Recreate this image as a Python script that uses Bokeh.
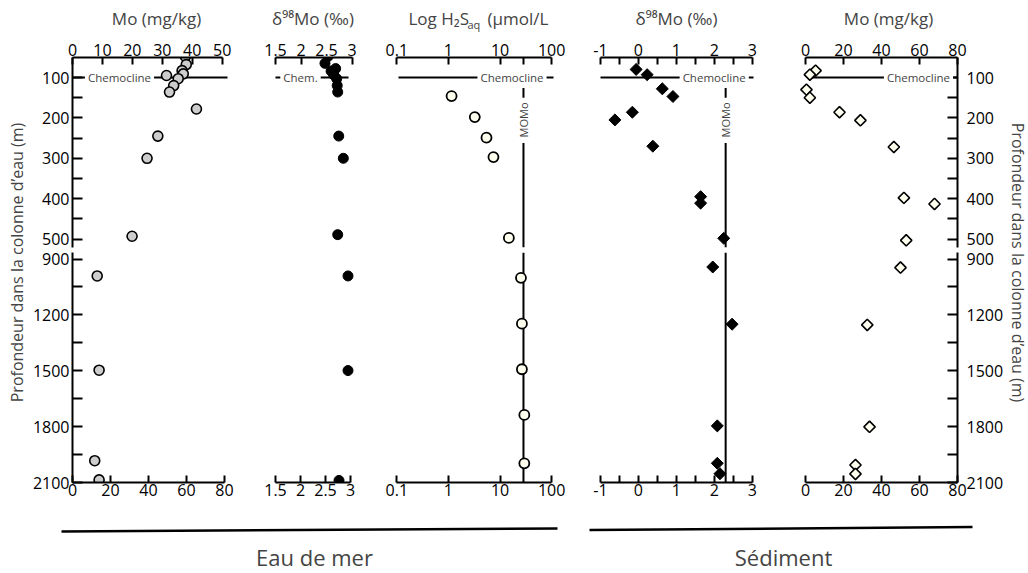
import numpy as np
from bokeh.plotting import figure
from bokeh.models import Range1d, FixedTicker, Label, LinearAxis, LogScale
from bokeh.layouts import row, column
from bokeh.embed import file_html
from bokeh.resources import INLINE

FONT = "Open Sans"

# ---------------- data ----------------
# Eau de mer - Mo (mg/kg)
sw_mo_depth_up = [48, 68, 83, 91, 95, 103, 120, 136, 178, 245, 300, 493]
sw_mo_up = [37.7, 38.0, 36.6, 37.0, 31.4, 35.3, 33.8, 32.4, 41.4, 28.5, 24.9, 19.9]
sw_mo_depth_lo = [991, 1497, 1983, 2086]
sw_mo_lo = [13.0, 14.0, 11.7, 14.0]

# Eau de mer - delta98Mo (permil)
sw_d98_depth_up = [48, 65, 78, 84, 93, 103, 120, 136, 245, 300, 489]
sw_d98_up = [2.53, 2.47, 2.68, 2.59, 2.64, 2.70, 2.71, 2.72, 2.74, 2.83, 2.72]
sw_d98_depth_lo = [991, 1499, 2089]
sw_d98_lo = [2.95, 2.95, 2.77]

# Eau de mer - H2S aq (umol/L)
h2s_depth_up = [146, 198, 249, 297, 497]
h2s_up = [1.15, 3.24, 5.46, 7.45, 14.8]
h2s_depth_lo = [1001, 1247, 1492, 1737, 1997]
h2s_lo = [25.4, 26.5, 26.5, 29.5, 29.5]

# Sediment - delta98Mo (permil)
sed_d98_depth_up = [80, 93, 128, 147, 186, 205, 270, 395, 411, 498]
sed_d98_up = [-0.06, 0.23, 0.63, 0.91, -0.16, -0.62, 0.38, 1.64, 1.64, 2.25]
sed_d98_depth_lo = [943, 1250, 1796, 1997, 2053]
sed_d98_lo = [1.96, 2.47, 2.08, 2.08, 2.15]

# Sediment - Mo (mg/kg)
sed_mo_depth_up = [83, 93, 130, 150, 186, 206, 272, 398, 413, 503]
sed_mo_up = [5.3, 2.3, 0.5, 2.3, 17.9, 28.9, 46.5, 51.8, 67.9, 53.0]
sed_mo_depth_lo = [946, 1254, 1801, 2006, 2054]
sed_mo_lo = [50.0, 32.5, 33.7, 26.3, 26.3]

CHEMOCLINE = 100
MOMO_H2S = 28.4
MOMO_D98 = 2.30

depth_ticks_up = [100, 200, 300, 400, 500]
depth_minor_up = [150, 250, 350, 450]
depth_ticks_lo = [900, 1200, 1500, 1800, 2100]
depth_minor_lo = [1050, 1350, 1650, 1950]

mo_ticks_up = [0, 10, 20, 30, 40, 50]
mo_ticks_lo = [0, 20, 40, 60, 80]
sed_mo_ticks = [0, 20, 40, 60, 80]
sw_d98_ticks = [1.5, 2, 2.5, 3]
h2s_ticks = [0.1, 1, 10, 100]
sed_d98_ticks = [-1, 0, 1, 2, 3]
sed_d98_minor = [-0.5, 0.5, 1.5, 2.5]

# ---------------- page geometry (pixels) ----------------
HEAD_H = 32
UP_Y = (57, 247)
UP_FIG_BOTTOM = 249
LO_Y = (252, 482)
LO_FIG_BOTTOM = 508
PAGE_W, PAGE_H = 1028, 573
UP_CAL = (100, 77.0, 500, 238.6)
LO_CAL = (900, 258.5, 2100, 482.0)


def px2x(cal, px, log=False):
    v0, p0, v1, p1 = cal
    if log:
        v0, v1 = np.log10(v0), np.log10(v1)
    v = v0 + (px - p0) * (v1 - v0) / (p1 - p0)
    return float(10 ** v) if log else float(v)


def py2d(cal, py):
    d0, p0, d1, p1 = cal
    return float(d0 + (py - p0) * (d1 - d0) / (p1 - p0))


def base_fig(xcal, xframe, span, ycal, yframe, mbt, mbb, log=False):
    p = figure(
        x_range=Range1d(px2x(xcal, xframe[0], log), px2x(xcal, xframe[1], log)),
        y_range=Range1d(py2d(ycal, yframe[1]), py2d(ycal, yframe[0])),
        frame_width=xframe[1] - xframe[0], frame_height=yframe[1] - yframe[0],
        min_border_left=xframe[0] - span[0], min_border_right=span[1] - xframe[1],
        min_border_top=mbt, min_border_bottom=mbb,
        x_axis_type=None, y_axis_type=None, toolbar_location=None,
        output_backend="svg", outline_line_color=None,
        background_fill_color="white", border_fill_color="white")
    if log:
        p.x_scale = LogScale()
    return p


def style_axis(ax, tick_len, standoff):
    ax.axis_line_width = 2
    ax.axis_line_color = "black"
    ax.major_tick_line_width = 2
    ax.major_tick_line_color = "black"
    ax.major_tick_in = tick_len
    ax.major_tick_out = 0
    ax.minor_tick_line_width = 2
    ax.minor_tick_line_color = "black"
    ax.minor_tick_in = tick_len
    ax.minor_tick_out = 0
    ax.major_label_text_font = FONT
    ax.major_label_text_font_size = "16px"
    ax.major_label_text_color = "black"
    ax.major_label_standoff = standoff


def x_axis(p, side, ticks, labels, minor, bounds):
    ax = LinearAxis(ticker=FixedTicker(ticks=ticks, minor_ticks=minor),
                    major_label_overrides={t: l for t, l in zip(ticks, labels)})
    style_axis(ax, 7, 2 if side == "above" else 1)
    ax.bounds = bounds
    p.add_layout(ax, side)


def y_axis(p, side, ticks, minor):
    ax = LinearAxis(ticker=FixedTicker(ticks=ticks, minor_ticks=minor),
                    major_label_overrides={t: str(t) for t in ticks})
    style_axis(ax, 10, 3 if side == "left" else 9)
    p.add_layout(ax, side)


def fmt(v):
    return "%g" % v


ST_SW_MO = dict(marker="circle", size=10, fill_color="#cdcdcd", line_color="black", line_width=1.6)
ST_SW_D98 = dict(marker="circle", size=10, fill_color="black", line_color="black", line_width=1)
ST_H2S = dict(marker="circle", size=10, fill_color="#fffff0", line_color="black", line_width=1.8)
ST_SED_D98 = dict(marker="square", angle=np.pi / 4, size=8.5, fill_color="black", line_color="black", line_width=1)
ST_SED_MO = dict(marker="square", angle=np.pi / 4, size=8, fill_color="#fffff0", line_color="black", line_width=1.6)


def chemocline(p, cal, log, px_from, px_to, text, px_text):
    p.segment(x0=[px2x(cal, px_from, log)], y0=[CHEMOCLINE], x1=[px2x(cal, px_to, log)], y1=[CHEMOCLINE],
              line_color="black", line_width=2)
    p.add_layout(Label(x=px2x(cal, px_text, log), y=CHEMOCLINE, text=text, text_font=FONT,
                       text_font_size="11.5px", text_align="center", text_baseline="middle",
                       background_fill_color="white", padding=3))


def momo(p_up, p_lo, xval):
    up_bottom = py2d(UP_CAL, UP_Y[1])
    lo_top = py2d(LO_CAL, LO_Y[0])
    p_up.segment(x0=[xval, xval], y0=[110, 262], x1=[xval, xval], y1=[150, up_bottom],
                 line_color="black", line_width=2)
    p_up.add_layout(Label(x=xval, y=205, text="MOMo", angle=np.pi / 2, text_font=FONT,
                          text_font_size="11px", text_align="center", text_baseline="middle"))
    p_lo.segment(x0=[xval], y0=[lo_top], x1=[xval], y1=[2100], line_color="black", line_width=2)


MBT_UP, MBB_UP = UP_Y[0] - HEAD_H, UP_FIG_BOTTOM - UP_Y[1]
MBT_LO, MBB_LO = LO_Y[0] - UP_FIG_BOTTOM, LO_FIG_BOTTOM - LO_Y[1]

# ---------- Panel 1 : seawater Mo ----------
c1u, c1l, f1, s1 = (0, 72, 50, 221.7), (0, 72, 80, 224), (72, 232), (28, 242)
p1u = base_fig(c1u, f1, s1, UP_CAL, UP_Y, MBT_UP, MBB_UP)
p1l = base_fig(c1l, f1, s1, LO_CAL, LO_Y, MBT_LO, MBB_LO)
x_axis(p1u, "above", mo_ticks_up, [fmt(t) for t in mo_ticks_up], [], (0, 50))
x_axis(p1l, "below", mo_ticks_lo, [fmt(t) for t in mo_ticks_lo], [], (0, 80))
y_axis(p1u, "left", depth_ticks_up, depth_minor_up)
y_axis(p1l, "left", depth_ticks_lo, depth_minor_lo)
chemocline(p1u, c1u, False, 72, 227, "Chemocline", 119)
p1u.scatter(x=sw_mo_up, y=sw_mo_depth_up, **ST_SW_MO)
p1l.scatter(x=sw_mo_lo, y=sw_mo_depth_lo, **ST_SW_MO)

# ---------- Panel 2 : seawater d98Mo ----------
c2u, c2l, f2, s2 = (1.5, 275, 3, 351.5), (1.5, 275, 3, 350), (262, 362), (242, 372)
p2u = base_fig(c2u, f2, s2, UP_CAL, UP_Y, MBT_UP, MBB_UP)
p2l = base_fig(c2l, f2, s2, LO_CAL, LO_Y, MBT_LO, MBB_LO)
x_axis(p2u, "above", sw_d98_ticks, [fmt(t) for t in sw_d98_ticks], [], (1.5, 3))
x_axis(p2l, "below", sw_d98_ticks, [fmt(t) for t in sw_d98_ticks], [], (1.5, 3))
chemocline(p2u, c2u, False, 275, 348, "Chem.", 300)
p2u.scatter(x=sw_d98_up, y=sw_d98_depth_up, **ST_SW_D98)
p2l.scatter(x=sw_d98_lo, y=sw_d98_depth_lo, **ST_SW_D98)

# ---------- Panel 3 : H2S ----------
c3, f3, s3 = (0.1, 396.3, 100, 551.2), (385, 565), (372, 575)
p3u = base_fig(c3, f3, s3, UP_CAL, UP_Y, MBT_UP, MBB_UP, log=True)
p3l = base_fig(c3, f3, s3, LO_CAL, LO_Y, MBT_LO, MBB_LO, log=True)
x_axis(p3u, "above", h2s_ticks + [MOMO_H2S], [fmt(t) for t in h2s_ticks] + [""], [], (0.1, 100))
x_axis(p3l, "below", h2s_ticks, [fmt(t) for t in h2s_ticks], [], (0.1, 100))
chemocline(p3u, c3, True, 398, 553, "Chemocline", 511.5)
momo(p3u, p3l, MOMO_H2S)
p3u.scatter(x=h2s_up, y=h2s_depth_up, **ST_H2S)
p3l.scatter(x=h2s_lo, y=h2s_depth_lo, **ST_H2S)

# ---------- Panel 4 : sediment d98Mo ----------
c4, f4, s4 = (-1, 600, 3, 751.7), (588, 765), (575, 775)
p4u = base_fig(c4, f4, s4, UP_CAL, UP_Y, MBT_UP, MBB_UP)
p4l = base_fig(c4, f4, s4, LO_CAL, LO_Y, MBT_LO, MBB_LO)
x_axis(p4u, "above", sed_d98_ticks, [fmt(t) for t in sed_d98_ticks], sed_d98_minor, (-1, 3))
x_axis(p4l, "below", sed_d98_ticks, [fmt(t) for t in sed_d98_ticks], sed_d98_minor, (-1, 3))
chemocline(p4u, c4, False, 600, 753, "Chemocline", 713.7)
momo(p4u, p4l, MOMO_D98)
p4u.scatter(x=sed_d98_up, y=sed_d98_depth_up, **ST_SED_D98)
p4l.scatter(x=sed_d98_lo, y=sed_d98_depth_lo, **ST_SED_D98)

# ---------- Panel 5 : sediment Mo ----------
c5, f5, s5 = (0, 805, 80, 957), (795, 957), (775, 1005)
p5u = base_fig(c5, f5, s5, UP_CAL, UP_Y, MBT_UP, MBB_UP)
p5l = base_fig(c5, f5, s5, LO_CAL, LO_Y, MBT_LO, MBB_LO)
x_axis(p5u, "above", sed_mo_ticks, [fmt(t) for t in sed_mo_ticks], [], (0, 80))
x_axis(p5l, "below", sed_mo_ticks, [fmt(t) for t in sed_mo_ticks], [], (0, 80))
y_axis(p5u, "right", depth_ticks_up, depth_minor_up)
y_axis(p5l, "right", depth_ticks_lo, depth_minor_lo)
chemocline(p5u, c5, False, 809, 957, "Chemocline", 918)
p5u.scatter(x=sed_mo_up, y=sed_mo_depth_up, **ST_SED_MO)
p5l.scatter(x=sed_mo_lo, y=sed_mo_depth_lo, **ST_SED_MO)


# ---------- page-coordinate figures: header, side labels, footer ----------
def page_fig(x0, x1, y0, y1):
    return figure(x_range=Range1d(x0, x1), y_range=Range1d(y1, y0),
                  frame_width=x1 - x0, frame_height=y1 - y0,
                  min_border_left=0, min_border_right=0, min_border_top=0, min_border_bottom=0,
                  x_axis_type=None, y_axis_type=None, toolbar_location=None,
                  output_backend="svg", outline_line_color=None,
                  background_fill_color="white", border_fill_color="white")


def text(p, x, y, s, size, align="center", angle=0.0):
    p.add_layout(Label(x=x, y=y, text=s, text_font=FONT, text_font_size=size, angle=angle,
                       text_align=align, text_baseline="middle"))


hd = page_fig(0, PAGE_W, 0, HEAD_H)
TY = 18
text(hd, 156, TY, "Mo (mg/kg)", "17px")
text(hd, 312.5, TY, "δ⁹⁸Mo (‰)", "17px")
text(hd, 408, TY, "Log H₂S", "17px", align="left")
text(hd, 467, TY + 6, "aq", "11px", align="left")
text(hd, 487, TY, "(µmol/L", "17px", align="left")
text(hd, 676, TY, "δ⁹⁸Mo (‰)", "17px")
text(hd, 888, TY, "Mo (mg/kg)", "17px")

YLABEL = "Profondeur dans la colonne d’eau (m)"
lf = page_fig(0, 28, HEAD_H, LO_FIG_BOTTOM)
text(lf, 16, 262, YLABEL, "16px", angle=np.pi / 2)
rf = page_fig(1005, PAGE_W, HEAD_H, LO_FIG_BOTTOM)
text(rf, 1016.5, 262, YLABEL, "16px", angle=-np.pi / 2)

ft = page_fig(0, PAGE_W, LO_FIG_BOTTOM, PAGE_H)
ft.segment(x0=[61, 589], y0=[531, 529.5], x1=[557, 972], y1=[528, 526.5], line_color="black", line_width=2.5)
text(ft, 314, 556, "Eau de mer", "22px")
text(ft, 783, 556, "Sédiment", "22px")

layout = column(
    hd,
    row(lf, column(p1u, p1l), column(p2u, p2l), column(p3u, p3l), column(p4u, p4l), column(p5u, p5l), rf),
    ft)

open("out.html", "w").write(file_html(layout, INLINE))
